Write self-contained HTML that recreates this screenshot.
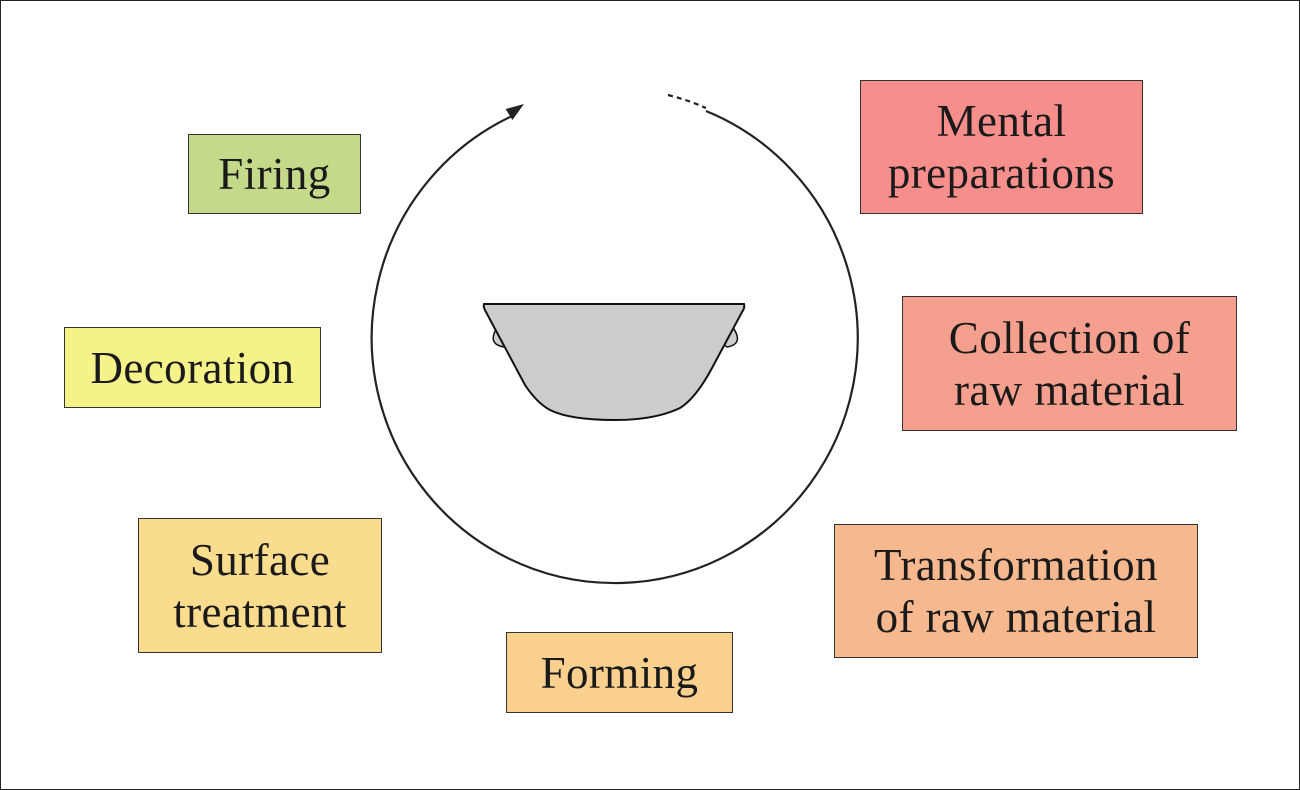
<!DOCTYPE html>
<html><head><style>
body{margin:0;width:1300px;height:790px;background:#fff;overflow:hidden;position:relative;font-family:"Liberation Serif",serif;}
.frame{position:absolute;left:0;top:0;width:1298px;height:788px;border:1px solid #222;}
.b{position:absolute;box-sizing:border-box;border:1.5px solid #333;display:flex;align-items:center;justify-content:center;text-align:center;font-size:45px;line-height:52px;letter-spacing:0.4px;color:#1a1a1a;}
</style></head><body>
<div class="frame"></div>
<svg width="1300" height="790" style="position:absolute;left:0;top:0">
<path d="M706 111 A243 245 0 1 1 512 116" fill="none" stroke="#222" stroke-width="2.2"/>
<path d="M524 104 L505.6 109 L512.4 120 Z" fill="#222"/>
<path d="M668 95 Q688 100 706 108" fill="none" stroke="#222" stroke-width="2.2" stroke-dasharray="5,4"/>
<path d="M498 326 Q486 344 504 347 L508 344 Z M732 326 Q745 344 727 347 L723 344 Z" fill="#ccc" stroke="#111" stroke-width="1.5"/>
<path d="M484 304 L744 304 Q745 308 742 312 L712 368 Q696 398 680 408 Q655 420 615 420 Q570 420 550 410 Q537 403 525 385 L486 312 Q483 307 484 304 Z" fill="#ccc" stroke="#111" stroke-width="2"/>
</svg>
<div class="b" style="left:188px;top:134px;width:173px;height:80px;background:#c5d98a">Firing</div>
<div class="b" style="left:64px;top:327px;width:257px;height:81px;background:#f6f28a">Decoration</div>
<div class="b" style="left:138px;top:518px;width:244px;height:135px;background:#f9dc8e">Surface<br>treatment</div>
<div class="b" style="left:506px;top:632px;width:227px;height:81px;background:#f9d08e">Forming</div>
<div class="b" style="left:834px;top:524px;width:364px;height:134px;background:#f5b88f">Transformation<br>of raw material</div>
<div class="b" style="left:902px;top:296px;width:335px;height:135px;background:#f5a08e">Collection of<br>raw material</div>
<div class="b" style="left:860px;top:80px;width:283px;height:134px;background:#f68e8c">Mental<br>preparations</div>
</body></html>
